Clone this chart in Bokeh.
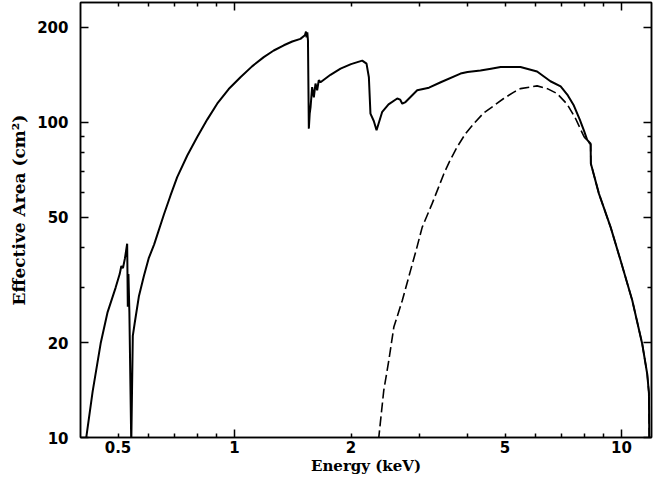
from bokeh.plotting import figure
from bokeh.models import LogAxis, FixedTicker, Range1d, ColumnDataSource, CustomJSTickFormatter, Title
from bokeh.embed import file_html
from bokeh.resources import INLINE

# ---- data ----
solid_energy = [0.413, 0.430, 0.451, 0.470, 0.493, 0.505, 0.510, 0.515, 0.521, 0.528,
                0.530, 0.532, 0.535, 0.541, 0.546, 0.552, 0.566, 0.583, 0.600, 0.620,
                0.657, 0.683, 0.711, 0.755, 0.801, 0.850, 0.902, 0.966, 1.036, 1.11,
                1.19, 1.263, 1.341, 1.41, 1.48, 1.52, 1.53, 1.535, 1.542, 1.548,
                1.556, 1.564, 1.572, 1.587, 1.603, 1.619, 1.635, 1.651, 1.668, 1.77,
                1.879, 2.0, 2.138, 2.193, 2.224, 2.245, 2.29, 2.328, 2.408, 2.50,
                2.633, 2.68, 2.713, 2.766, 2.965, 3.18, 3.41, 3.837, 4.0, 4.32,
                4.6, 4.87, 5.48, 6.05, 6.55, 6.96, 7.24, 7.53, 7.8, 8.0,
                8.15, 8.32, 8.33, 8.74, 9.37, 9.94, 10.66, 11.31, 11.65, 11.77,
                11.80]
solid_area = [9.8, 14.0, 19.9, 25.0, 29.9, 33.0, 35.0, 34.5, 37.0, 41.2,
              26.0, 33.0, 25.0, 9.5, 21.0, 23.0, 28.0, 32.5, 37.0, 41.0,
              51.0, 58.5, 67.0, 78.5, 89.8, 102.0, 114.6, 127.5, 139.0, 150.5,
              161.0, 169.0, 175.6, 180.5, 184.0, 189.0, 194.0, 186.0, 193.0, 182.0,
              95.5, 106.6, 111.8, 129.4, 120.0, 132.8, 126.4, 136.0, 134.0, 141.5,
              148.0, 153.0, 157.0, 153.5, 139.0, 106.6, 101.0, 94.4, 108.0, 114.0,
              119.0, 118.0, 114.6, 116.0, 126.4, 128.8, 134.0, 142.8, 144.5, 146.0,
              148.0, 149.8, 149.8, 145.0, 135.0, 130.0, 122.5, 113.0, 102.0, 94.0,
              88.0, 85.5, 74.0, 59.4, 46.5, 36.5, 27.2, 19.8, 15.9, 13.8,
              9.0]

dashed_energy = [2.355, 2.43, 2.505, 2.58, 2.713, 2.85, 2.95, 3.055, 3.24, 3.475,
                 3.6, 3.76, 3.95, 4.15, 4.4, 4.68, 4.96, 5.27, 5.48, 6.05,
                 6.43, 6.82, 7.24, 7.6, 8.0, 8.32, 8.33, 8.74, 9.37, 9.94,
                 10.66, 11.31, 11.65, 11.77, 11.80]
dashed_area = [9.8, 14.1, 17.6, 22.4, 27.2, 33.9, 39.5, 46.5, 55.2, 68.7,
               75.5, 83.5, 92.0, 99.0, 107.0, 113.0, 119.0, 124.7, 127.9, 130.5,
               127.9, 123.3, 114.0, 103.0, 90.0, 85.0, 74.0, 59.4, 46.5, 36.5,
               27.2, 19.8, 15.9, 13.8, 9.0]

x_major_ticks = [1, 10]
x_minor_ticks = [0.5, 0.6, 0.7, 0.8, 0.9, 2, 3, 4, 5, 6, 7, 8, 9]
x_tick_labels = [0.5, 1, 2, 5, 10]
y_major_ticks = [10, 20, 50, 100, 200]
y_minor_ticks = [30, 40, 60, 70, 80, 90]

x_title = "Energy (keV)"
y_title = "Effective Area (cm\u00b2)"

TICK_FONT = "DejaVu Sans"
TITLE_FONT = "DejaVu Serif"

p = figure(x_axis_type="log", y_axis_type="log",
           x_range=Range1d(0.4, 11.95), y_range=Range1d(10, 240),
           frame_width=571, frame_height=435,
           min_border_left=80, min_border_right=4, min_border_top=2, min_border_bottom=50,
           x_axis_location=None, y_axis_location=None,
           toolbar_location=None, output_backend="svg")
for g in p.grid:
    g.visible = False
p.outline_line_color = "black"
p.outline_line_width = 1.5
p.background_fill_color = "white"
p.border_fill_color = "white"

fmt = CustomJSTickFormatter(code="return tick.toString();")


def ticks_only(axis):
    axis.major_tick_out = 0
    axis.minor_tick_out = 0
    axis.major_label_text_font_size = "0px"
    axis.major_label_standoff = 0
    axis.axis_line_color = "black"
    axis.axis_line_width = 1.5
    axis.major_tick_line_width = 1.5
    axis.minor_tick_line_width = 1.5
    axis.major_tick_line_color = "black"
    axis.minor_tick_line_color = "black"


# bottom: tick marks
xb = LogAxis(ticker=FixedTicker(ticks=x_major_ticks, minor_ticks=x_minor_ticks),
             major_tick_in=8, minor_tick_in=4, formatter=fmt,
             major_label_overrides={1: "", 10: ""})
ticks_only(xb)
p.add_layout(xb, "below")

# bottom: labels
xl = LogAxis(ticker=FixedTicker(ticks=x_tick_labels, minor_ticks=[]), formatter=fmt,
             major_tick_in=0, major_tick_out=0, minor_tick_in=0, minor_tick_out=0,
             axis_line_color=None, major_tick_line_color=None, minor_tick_line_color=None,
             major_label_standoff=3,
             major_label_text_font=TICK_FONT, major_label_text_font_size="15px",
             major_label_text_font_style="bold", major_label_text_color="black",
             axis_label=x_title, axis_label_standoff=1,
             axis_label_text_font=TITLE_FONT, axis_label_text_font_size="15px",
             axis_label_text_font_style="bold", axis_label_text_color="black")
p.add_layout(xl, "below")

# top ticks
xt = LogAxis(ticker=FixedTicker(ticks=x_major_ticks, minor_ticks=x_minor_ticks),
             major_tick_in=8, minor_tick_in=4, formatter=fmt,
             major_label_overrides={1: "", 10: ""})
ticks_only(xt)
p.add_layout(xt, "above")

# left axis
yl = LogAxis(ticker=FixedTicker(ticks=y_major_ticks, minor_ticks=y_minor_ticks), formatter=fmt,
             major_tick_in=8, major_tick_out=0, minor_tick_in=4, minor_tick_out=0,
             axis_line_width=1.5, major_tick_line_width=1.5, minor_tick_line_width=1.5,
             major_label_standoff=12,
             major_label_text_font=TICK_FONT, major_label_text_font_size="15px",
             major_label_text_font_style="bold", major_label_text_color="black")
p.add_layout(yl, "left")

p.add_layout(Title(text=y_title, align="left", offset=132, standoff=11,
                   text_font=TITLE_FONT, text_font_size="17px",
                   text_font_style="bold", text_color="black"), "left")

# right ticks
yr = LogAxis(ticker=FixedTicker(ticks=y_major_ticks, minor_ticks=y_minor_ticks),
             major_tick_in=8, minor_tick_in=4, formatter=fmt,
             major_label_overrides={v: "" for v in y_major_ticks})
ticks_only(yr)
p.add_layout(yr, "right")

solid_src = ColumnDataSource(data=dict(x=solid_energy, y=solid_area))
dashed_src = ColumnDataSource(data=dict(x=dashed_energy, y=dashed_area))

p.line("x", "y", source=solid_src, line_color="black", line_width=2.0)
p.line("x", "y", source=dashed_src, line_color="black", line_width=1.6, line_dash="10 4")

open("out.html", "w").write(file_html(p, INLINE))
